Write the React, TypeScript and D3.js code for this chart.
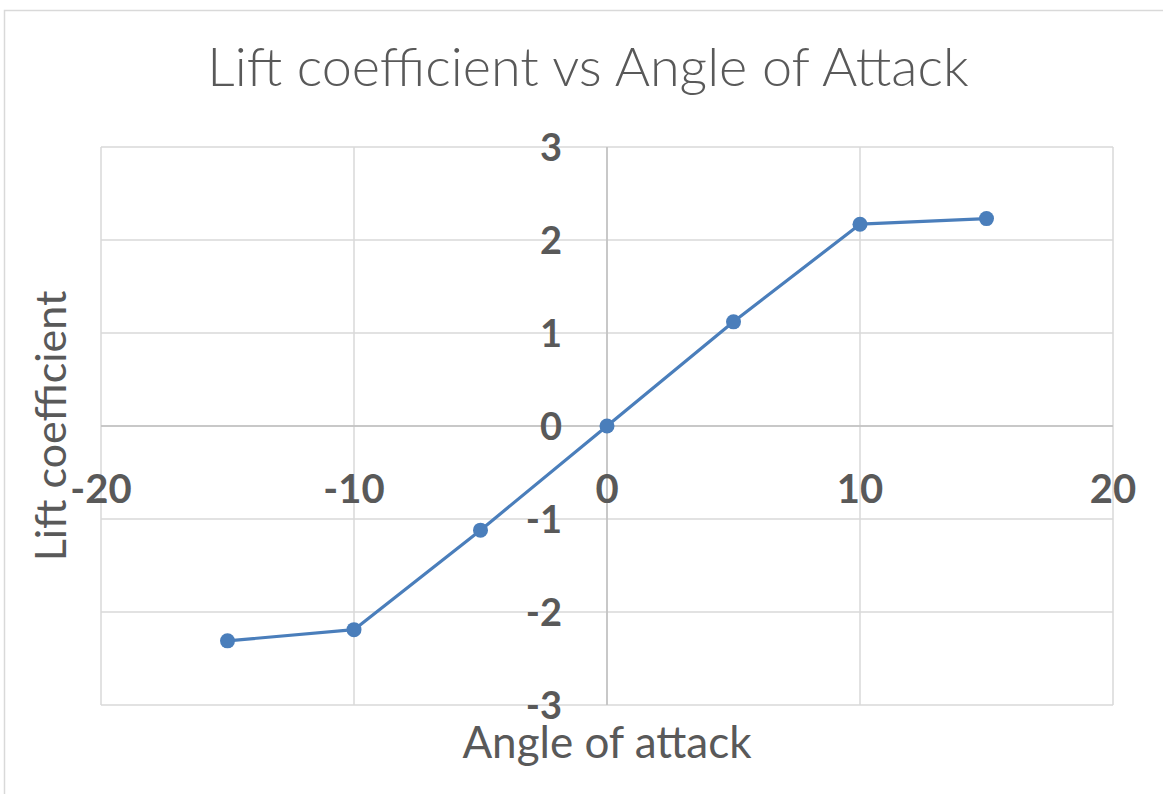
import React from "react";
import * as d3 from "d3";

const angles = [-15, -10, -5, 0, 5, 10, 15];
const liftCoef = [-2.31, -2.19, -1.12, 0, 1.12, 2.17, 2.23];
const xTicks = [-20, -10, 0, 10, 20];
const yTicks = [-3, -2, -1, 0, 1, 2, 3];

const W = 1163;
const H = 794;
const plot = { left: 101, right: 1113, top: 147, bottom: 705 };
const FONT = "Lato, 'Open Sans', sans-serif";
const TEXT = "#595959";
const GRID = "#d9d9d9";
const BLUE = "#4a7ebb";

export default function App() {
  const x = d3.scaleLinear().domain([-20, 20]).range([plot.left, plot.right]);
  const y = d3.scaleLinear().domain([-3, 3]).range([plot.bottom, plot.top]);
  const data = angles.map((a, i) => ({ a, c: liftCoef[i] }));
  const line = d3
    .line<{ a: number; c: number }>()
    .x((d) => x(d.a))
    .y((d) => y(d.c));

  return (
    <svg
      width={W}
      height={H}
      style={{ position: "absolute", left: 0, top: 0, background: "#fff" }}
      fontFamily={FONT}
    >
      <rect x={0} y={0} width={W} height={H} fill="#fff" />
      <rect x={4.5} y={10.5} width={W + 10} height={H + 10} fill="none" stroke={GRID} strokeWidth={1.5} />
      <text x={588} y={86} textAnchor="middle" fontSize={54} fill={TEXT} fontWeight={300}>
        Lift coefficient vs Angle of Attack
      </text>
      {xTicks.map((t) => (
        <line key={"gx" + t} x1={x(t)} x2={x(t)} y1={plot.top} y2={plot.bottom} stroke={GRID} strokeWidth={1.5} />
      ))}
      {yTicks.map((t) => (
        <line key={"gy" + t} x1={plot.left} x2={plot.right} y1={y(t)} y2={y(t)} stroke={GRID} strokeWidth={1.5} />
      ))}
      <line x1={x(0)} x2={x(0)} y1={plot.top} y2={plot.bottom} stroke="#bfbfbf" strokeWidth={1.5} />
      <line x1={plot.left} x2={plot.right} y1={y(0)} y2={y(0)} stroke="#bfbfbf" strokeWidth={1.5} />
      {yTicks.map((t) => (
        <text key={"ty" + t} x={x(0) - 45} y={y(t) + 14} textAnchor="end" fontSize={38} fontWeight={700} fill={TEXT}>
          {t}
        </text>
      ))}
      {xTicks.map((t) => (
        <text key={"tx" + t} x={x(t)} y={503} textAnchor="middle" fontSize={40} fontWeight={700} fill={TEXT}>
          {t}
        </text>
      ))}
      <path d={line(data) || ""} fill="none" stroke={BLUE} strokeWidth={3.2} strokeLinejoin="round" />
      {data.map((d, i) => (
        <circle key={i} cx={x(d.a)} cy={y(d.c)} r={7.5} fill={BLUE} />
      ))}
      <text x={607} y={758} textAnchor="middle" fontSize={44} fill={TEXT}>
        Angle of attack
      </text>
      <text
        transform={`translate(66, 426) rotate(-90)`}
        textAnchor="middle"
        fontSize={43}
        fill={TEXT}
      >
        Lift coefficient
      </text>
    </svg>
  );
}
